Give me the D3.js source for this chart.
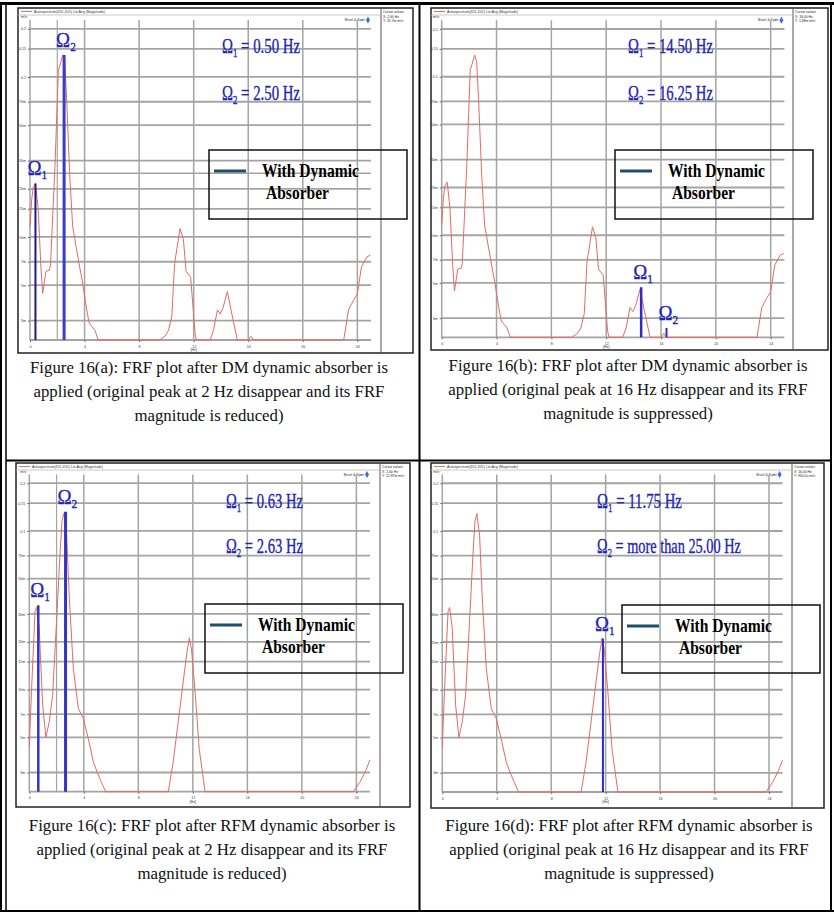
<!DOCTYPE html>
<html>
<head>
<meta charset="utf-8">
<script src="https://cdn.jsdelivr.net/npm/d3@7"></script>
<style>
  body { margin: 0; background: #fff; }
  svg { display: block; }
</style>
</head>
<body>
<div id="fig"></div>
<script>
// red FRF curve, DM absorber case (panels a, b)
var freqDM = [0, 0.12, 0.24, 0.4, 0.6, 0.8, 0.93, 1.17, 1.42, 1.5, 1.83, 2.08, 2.2, 2.4, 2.55, 2.69, 2.93, 3.13, 3.55, 3.86, 4.16, 4.35, 4.77, 5.0,
  9.5, 9.9, 10.15, 10.4, 10.6, 11.0, 11.25, 11.44, 11.78, 12.1, 12.2, 13.2, 13.45, 13.74, 13.94, 14.15, 14.47, 14.8, 15.2,
  16.0, 16.2, 16.4, 23.0, 23.35, 23.7, 24.0, 24.3, 24.7, 24.95];
var magDM = [0.0116, 0.017, 0.0206, 0.0216, 0.015, 0.0065, 0.00445, 0.0061, 0.0062, 0.0066, 0.0275, 0.11, 0.119, 0.137, 0.125, 0.0718, 0.0227, 0.0116, 0.00718, 0.00513, 0.0035, 0.00287, 0.0026, 0.00227,
  0.00227, 0.0024, 0.0026, 0.0032, 0.0068, 0.0113, 0.0096, 0.0061, 0.0056, 0.0025, 0.00227, 0.00227, 0.0026, 0.0035, 0.0033, 0.0036, 0.00455, 0.0033, 0.00227,
  0.00227, 0.0024, 0.00227, 0.00227, 0.0035, 0.0040, 0.0044, 0.0065, 0.0075, 0.0077];

// red FRF curve, RFM absorber case (panels c, d)
var freqRFM = [0, 0.17, 0.42, 0.54, 0.73, 0.98, 1.22, 1.47, 1.71, 2.0, 2.25, 2.4, 2.54, 2.74, 2.93, 3.23, 3.6, 3.96, 4.33, 4.7, 4.99, 5.3, 5.6,
  10.2, 10.56, 11.05, 11.54, 11.74, 11.9, 12.15, 12.47, 12.9, 23.77, 24.25, 24.7, 24.99];
var magRFM = [0.0044, 0.0102, 0.031, 0.033, 0.0243, 0.008, 0.005, 0.0063, 0.0092, 0.0268, 0.0705, 0.115, 0.129, 0.094, 0.039, 0.0136, 0.0076, 0.0066, 0.0049, 0.0035, 0.003, 0.0026, 0.00227,
  0.00227, 0.0035, 0.0076, 0.0165, 0.0212, 0.018, 0.0101, 0.0042, 0.00227, 0.00227, 0.0026, 0.0031, 0.0036];

var xTicks = [0, 4, 8, 12, 16, 20, 24];
var yTicks = [0.2, 0.15, 0.1, 0.07, 0.05, 0.03, 0.02, 0.015, 0.01, 0.007, 0.005, 0.003];
var yTickLabels = ["0.2", "0.15", "0.1", "70m", "50m", "30m", "20m", "15m", "10m", "7m", "5m", "3m"];

// blue "with dynamic absorber" peaks, per panel a..d
var omega1Freq = [0.4, 14.55, 0.66, 11.8];
var omega1Mag = [0.0216, 0.0047, 0.034, 0.021];
var omega2Freq = [2.5, 16.4, 2.66, null];
var omega2Mag = [0.137, 0.0026, 0.132, null];
var omega1Text = ["0.50 Hz", "14.50 Hz", "0.63 Hz", "11.75 Hz"];
var omega2Text = ["2.50 Hz", "16.25 Hz", "2.63 Hz", "more than 25.00 Hz"];
var cursorText = [["X: 2.00 Hz", "Y: 25.7m m/s²"], ["X: 16.00 Hz", "Y: 1.88m m/s²"], ["X: 2.00 Hz", "Y: 12.87m m/s²"], ["X: 16.00 Hz", "Y: 900.0u m/s²"]];

var captions = [
  ["Figure 16(a): FRF plot after DM dynamic absorber is", "applied (original peak at 2 Hz disappear and its FRF", "magnitude is reduced)"],
  ["Figure 16(b): FRF plot after DM dynamic absorber is", "applied (original peak at 16 Hz disappear and its FRF", "magnitude is suppressed)"],
  ["Figure 16(c): FRF plot after RFM dynamic absorber is", "applied (original peak at 2 Hz disappear and its FRF", "magnitude is reduced)"],
  ["Figure 16(d): FRF plot after RFM dynamic absorber is", "applied (original peak at 16 Hz disappear and its FRF", "magnitude is suppressed)"]
];

var W = 834, H = 915;
var serif = "'Liberation Serif', 'Times New Roman', serif";
var sans = "'Liberation Sans', Arial, sans-serif";

var svg = d3.select("#fig").append("svg")
  .attr("width", W)
  .attr("height", H);

svg.append("rect").attr("width", W).attr("height", H).attr("fill", "#fff");

// layout of the four panels
var panels = [
  { box: [18, 8, 413, 353], plot: [30, 20, 371, 340], cur: 381, freq: freqDM, mag: magDM, cx: 2, cy: 0.025,
    lab: [222, 53, 100], labW: [78, 78], leg: [209, 150, 407, 219], cap: [209, 373], c1: "#1c1c80", c2: "#3a3acc", w1: 2, w2: 3 },
  { box: [431, 8, 828, 350], plot: [441.7, 20.3, 784.4, 337.3], cur: 793, freq: freqDM, mag: magDM, cx: null, cy: null,
    lab: [628, 53, 100], labW: [85, 85], leg: [615, 150, 813, 219], cap: [628, 371], c1: "#2d2dc4", c2: "#2d2dc4", w1: 2.5, w2: 2 },
  { box: [16, 463, 410, 807], plot: [29.3, 474.5, 370, 791.7], cur: 380, freq: freqRFM, mag: magRFM, cx: 2, cy: null,
    lab: [226, 508, 553], labW: [77, 77], leg: [205, 604, 403, 673], cap: [212, 831], c1: "#3434c4", c2: "#3434c4", w1: 2.5, w2: 3 },
  { box: [431, 463, 824, 808], plot: [442.3, 474.5, 782.6, 792], cur: 792, freq: freqRFM, mag: magRFM, cx: null, cy: null,
    lab: [597, 508, 553], labW: [85, 144], leg: [622, 605, 820, 673], cap: [629, 831], c1: "#2a2ad0", c2: "#2a2ad0", w1: 2, w2: 2 }
];

// table borders
var frame = svg.append("g").attr("stroke", "#000").attr("fill", "none");
frame.append("line").attr("x1", 0).attr("x2", W).attr("y1", 3.5).attr("y2", 3.5).attr("stroke-width", 3);
frame.append("line").attr("x1", 1).attr("x2", 1).attr("y1", 2).attr("y2", 912).attr("stroke-width", 2);
frame.append("line").attr("x1", 6).attr("x2", 6).attr("y1", 5).attr("y2", 912).attr("stroke-width", 1.5);
frame.append("line").attr("x1", 831).attr("x2", 831).attr("y1", 2).attr("y2", 912).attr("stroke-width", 2);
frame.append("line").attr("x1", 419.5).attr("x2", 419.5).attr("y1", 2).attr("y2", 912).attr("stroke-width", 2);
frame.append("line").attr("x1", 6).attr("x2", 831).attr("y1", 460.5).attr("y2", 460.5).attr("stroke-width", 2);
frame.append("line").attr("x1", 0).attr("x2", W).attr("y1", 911).attr("y2", 911).attr("stroke-width", 2);

function omegaLabel(g, x, y, sub, rest, width, size) {
  var t = g.append("text")
    .attr("font-family", serif)
    .attr("font-size", size)
    .attr("fill", "#2424b0")
    .attr("stroke", "#2424b0")
    .attr("stroke-width", 0.35);
  t.append("tspan").text("Ω");
  t.append("tspan").attr("font-size", size * 0.6).attr("dy", 4).text(sub);
  if (rest) t.append("tspan").attr("dy", -4).text(" = " + rest);
  var natural = t.node().getComputedTextLength();
  var sx = width ? width / natural : 0.9;
  t.attr("transform", "translate(" + x + "," + y + ") scale(" + sx + ",1)");
}

panels.forEach(function(p, i) {
  var g = svg.append("g");
  var b = p.box;

  var x = d3.scaleLinear().domain([0, 25]).range([p.plot[0], p.plot[2]]);
  var y = d3.scaleLog().domain([0.00227, 0.227]).range([p.plot[3], p.plot[1]]).clamp(true);

  // screenshot frame
  g.append("rect")
    .attr("x", b[0]).attr("y", b[1])
    .attr("width", b[2] - b[0]).attr("height", b[3] - b[1])
    .attr("fill", "#fff").attr("stroke", "#222").attr("stroke-width", 1.5);
  g.append("line")
    .attr("x1", p.cur).attr("x2", p.cur).attr("y1", b[1]).attr("y2", b[3])
    .attr("stroke", "#555").attr("stroke-width", 1);
  g.append("line")
    .attr("x1", b[0]).attr("x2", p.cur).attr("y1", b[1] + 7).attr("y2", b[1] + 7)
    .attr("stroke", "#bbb").attr("stroke-width", 0.8);

  // legend strip of the analyser
  g.append("line")
    .attr("x1", b[0] + 3).attr("x2", b[0] + 14).attr("y1", b[1] + 3.5).attr("y2", b[1] + 3.5)
    .attr("stroke", "#e07070").attr("stroke-width", 1);
  g.append("text")
    .attr("x", b[0] + 16).attr("y", b[1] + 5)
    .attr("font-family", sans).attr("font-size", 3.6).attr("fill", "#333")
    .text("Autospectrum(Z01,Z01) Lin Avg (Magnitude)");

  // cursor values box
  var ct = g.append("text").attr("font-family", sans).attr("font-size", 3.4).attr("fill", "#222");
  ["Cursor values"].concat(cursorText[i]).forEach(function(s, k) {
    ct.append("tspan").attr("x", p.cur + 2).attr("y", b[1] + 5 + k * 4.5).text(s);
  });

  // Bruel & Kjaer mark
  g.append("text")
    .attr("x", p.plot[2] - 6).attr("y", p.plot[1] + 1)
    .attr("text-anchor", "end")
    .attr("font-family", sans).attr("font-size", 3.6).attr("fill", "#333")
    .text("Brüel & Kjær");
  g.append("path")
    .attr("d", d3.symbol().type(d3.symbolDiamond).size(14))
    .attr("transform", "translate(" + (p.plot[2] - 3) + "," + p.plot[1] + ")")
    .attr("fill", "#3a6fe0");

  // grid
  var grid = g.append("g").attr("stroke", "#a4a4a4");
  grid.selectAll(".hg").data(yTicks).enter().append("line")
    .attr("x1", p.plot[0]).attr("x2", p.plot[2])
    .attr("y1", function(d) { return y(d); }).attr("y2", function(d) { return y(d); })
    .attr("stroke-width", 1.8);
  grid.append("line")
    .attr("x1", p.plot[0]).attr("x2", p.plot[2])
    .attr("y1", p.plot[3]).attr("y2", p.plot[3])
    .attr("stroke-width", 1.8);
  grid.selectAll(".vg").data(xTicks).enter().append("line")
    .attr("x1", function(d) { return x(d); }).attr("x2", function(d) { return x(d); })
    .attr("y1", p.plot[1]).attr("y2", p.plot[3])
    .attr("stroke-width", 1.5);
  if (p.cx != null) {
    grid.append("line")
      .attr("x1", x(p.cx)).attr("x2", x(p.cx)).attr("y1", p.plot[1]).attr("y2", p.plot[3])
      .attr("stroke-width", 1.2);
  }
  if (p.cy != null) {
    grid.append("line")
      .attr("x1", p.plot[0]).attr("x2", p.plot[2]).attr("y1", y(p.cy)).attr("y2", y(p.cy))
      .attr("stroke-width", 1.5);
  }

  // tiny axis labels
  var yAxis = d3.axisLeft(y).tickValues(yTicks).tickSize(2)
    .tickFormat(function(d, k) { return yTickLabels[k]; });
  g.append("g")
    .attr("transform", "translate(" + p.plot[0] + ",0)")
    .call(yAxis)
    .call(function(a) {
      a.select(".domain").remove();
      a.selectAll("text").attr("font-size", 3.6).attr("font-family", sans).attr("fill", "#333").attr("dx", 1);
      a.selectAll("line").attr("stroke", "#666");
    });
  var xAxis = d3.axisBottom(x).tickValues(xTicks).tickSize(2);
  g.append("g")
    .attr("transform", "translate(0," + p.plot[3] + ")")
    .call(xAxis)
    .call(function(a) {
      a.select(".domain").remove();
      a.selectAll("text").attr("font-size", 3.6).attr("font-family", sans).attr("fill", "#333");
      a.selectAll("line").attr("stroke", "#666");
    });
  g.append("text")
    .attr("x", x(12)).attr("y", p.plot[3] + 11)
    .attr("text-anchor", "middle")
    .attr("font-family", sans).attr("font-size", 3.6).attr("fill", "#333")
    .text("[Hz]");
  g.append("text")
    .attr("x", p.plot[0] - 9).attr("y", p.plot[1] - 2)
    .attr("font-family", sans).attr("font-size", 3.6).attr("fill", "#333")
    .text("m/s²");

  // red FRF curve
  var pts = p.freq.map(function(f, k) { return [f, p.mag[k]]; });
  var line = d3.line()
    .x(function(d) { return x(d[0]); })
    .y(function(d) { return y(d[1]); });
  g.append("path")
    .datum(pts)
    .attr("d", line)
    .attr("fill", "none")
    .attr("stroke", "#e36a6a")
    .attr("stroke-width", 1);

  // blue peaks with absorber
  var peaks = [[omega1Freq[i], omega1Mag[i], p.c1, p.w1, "1"], [omega2Freq[i], omega2Mag[i], p.c2, p.w2, "2"]];
  peaks.forEach(function(pk) {
    if (pk[0] == null) return;
    g.append("line")
      .attr("x1", x(pk[0])).attr("x2", x(pk[0]))
      .attr("y1", p.plot[3]).attr("y2", y(pk[1]))
      .attr("stroke", pk[2]).attr("stroke-width", pk[3]);
    omegaLabel(g, x(pk[0]) - 8, y(pk[1]) - 8, pk[4], null, null, 21);
  });

  // omega value labels
  omegaLabel(g, p.lab[0], p.lab[1], "1", omega1Text[i], p.labW[0], 21);
  omegaLabel(g, p.lab[0], p.lab[2], "2", omega2Text[i], p.labW[1], 21);

  // legend box
  var L = p.leg;
  g.append("rect")
    .attr("x", L[0]).attr("y", L[1])
    .attr("width", L[2] - L[0]).attr("height", L[3] - L[1])
    .attr("fill", "none").attr("stroke", "#111").attr("stroke-width", 1.5);
  g.append("line")
    .attr("x1", L[0] + 5).attr("x2", L[0] + 37)
    .attr("y1", L[1] + 21).attr("y2", L[1] + 21)
    .attr("stroke", "#1d4f6c").attr("stroke-width", 3);
  g.append("text")
    .attr("x", L[0] + 53).attr("y", L[1] + 27)
    .attr("font-family", serif).attr("font-weight", "bold").attr("font-size", 19)
    .attr("textLength", 97).attr("lengthAdjust", "spacingAndGlyphs")
    .text("With Dynamic");
  g.append("text")
    .attr("x", L[0] + 57).attr("y", L[1] + 49)
    .attr("font-family", serif).attr("font-weight", "bold").attr("font-size", 19)
    .attr("textLength", 63).attr("lengthAdjust", "spacingAndGlyphs")
    .text("Absorber");

  // caption
  var cap = svg.append("text")
    .attr("font-family", serif).attr("font-size", 16.8).attr("fill", "#111")
    .attr("text-anchor", "middle");
  captions[i].forEach(function(s, k) {
    cap.append("tspan").attr("x", p.cap[0]).attr("y", p.cap[1] + k * 24).text(s);
  });
});
</script>
</body>
</html>
